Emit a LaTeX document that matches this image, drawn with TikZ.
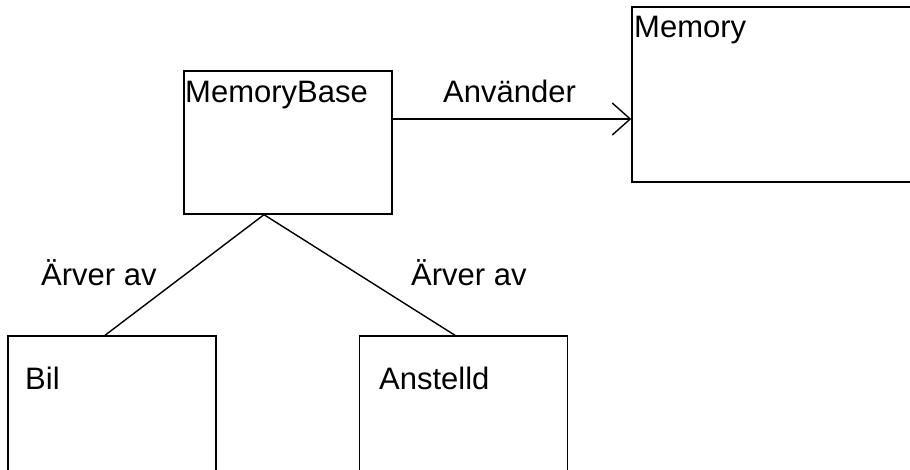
\documentclass[tikz,border=0pt]{standalone}
\usepackage{fontspec}
\setmainfont{Liberation Sans}
\usetikzlibrary{arrows.meta,positioning}
\tikzset{
  clsBox/.style={draw, line width=1.4pt, minimum width=208pt, inner sep=0pt},
  clsName/.style={anchor=base west, inner sep=0pt, font=\fontsize{31}{37}\selectfont},
  relLine/.style={line width=1.4pt},
  useArrow/.style={line width=1.4pt, -{Straight Barb[length=18pt, width=32pt]}},
}
\begin{document}
\begin{tikzpicture}[x=1pt, y=-1pt]
\clip (0,0) rectangle (910,470);
\fill[white] (0,0) rectangle (910,470);
%% class boxes
\node[clsBox, minimum height=143pt] (mBase) at (288,142.5) {};
\node[clsBox, minimum width=320pt, minimum height=175pt] (mMem) at (792,94.5) {};
\node[clsBox, minimum height=200pt] (mBil)  at (112,436) {};
\node[clsBox, minimum height=200pt] (mAnst) at (463.5,436) {};

%% names and relation labels
\node[clsName] (tBase) at (185,103) {MemoryBase};
\node[clsName] (tMem)  at (634,38)  {Memory};
\node[clsName] (tBil)  at (25,389)  {Bil};
\node[clsName] (tAnst) at (379,389) {Anstelld};
\node[clsName] (tUses) at (443,103) {Använder};
\node[clsName] (tInhL) at (41,286)  {Ärver av};
\node[clsName] (tInhR) at (411,286) {Ärver av};

%% relations
\draw[useArrow] ([yshift=23.5pt]mBase.east) -- ([yshift=23.5pt]mBase.east -| mMem.west);
\draw[relLine] ([xshift=-24pt]mBase.south) -- ([xshift=-7pt]mBil.north);
\draw[relLine] ([xshift=-24pt]mBase.south) -- ([xshift=-8.5pt]mAnst.north);
\end{tikzpicture}
\end{document}
